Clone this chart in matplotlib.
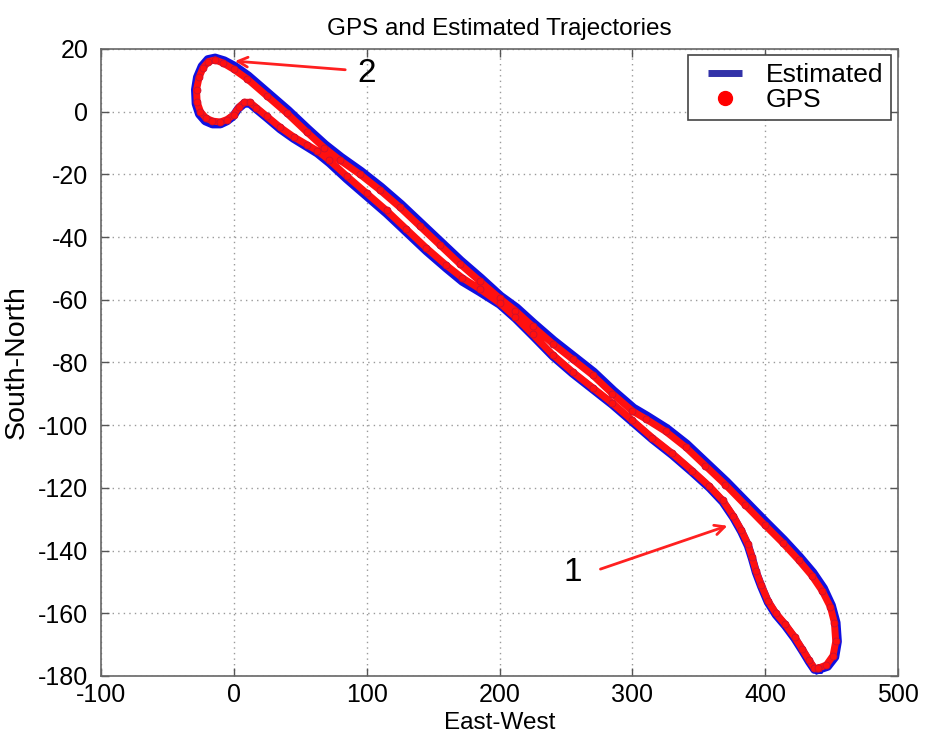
import matplotlib
matplotlib.use("Agg")
import matplotlib.pyplot as plt
from matplotlib.lines import Line2D

# ---- data ----
gps_x = [440, 446, 451, 453, 452, 449, 443, 435, 425, 413, 400, 385, 370, 355, 340, 325, 310, 300,
         285, 270, 255, 240, 225, 212, 200, 185, 170, 155, 140, 125, 110, 95, 80, 68, 55, 40, 25, 10,
         0, -8, -14, -19, -23, -26, -28, -27.5, -25, -21, -16, -10, -5, 0, 4, 8, 12, 17, 25, 35, 45,
         55, 63, 72, 85, 100, 115, 130, 145, 160, 172, 185, 200, 212, 225, 240, 255, 270, 285, 300,
         315, 330, 345, 358, 368, 376, 382, 387, 390, 393, 397, 402, 408, 415, 422, 428, 433, 437, 440]
gps_y = [-177.5, -176.5, -173.5, -169, -163, -158, -153, -148, -143, -137.5, -132, -125.5, -119, -113,
         -107, -102, -98, -95.5, -90, -84, -79, -74, -68.5, -63.5, -59.5, -54, -48.5, -42.5, -36.5,
         -30.5, -25, -20, -15.5, -11.5, -6.5, -0.5, 5, 10.5, 13.5, 15.5, 16.5, 16, 14, 11, 7, 3, 0,
         -2, -3, -3.3, -2.5, -1, 1.5, 3, 3, 1.3, -1.5, -5, -8, -10.5, -12.5, -15.5, -20.5, -26, -31.5,
         -37.5, -43.5, -49, -53, -56.5, -61, -65.5, -71, -77.5, -83, -88, -93, -98.5, -104, -109,
         -114.5, -119.5, -124, -129, -133.5, -138, -142, -146.5, -151, -156, -160, -163.5, -167.5,
         -171.5, -175, -177.5, -177.5]

est_x = [440, 447, 452.5, 454.5, 453.5, 450, 444, 436, 426, 414, 401, 386, 371, 356, 341, 326, 311, 301,
         286, 271, 256, 241, 226, 213, 201, 186, 171, 156, 141, 126, 111, 96, 81, 69, 56, 41, 26, 11,
         1, -7, -14, -19.5, -24, -27.5, -29, -28.5, -26, -21.5, -16, -10, -5, -0.5, 3.5, 8, 12, 17,
         25, 35, 45, 55, 63, 72, 85, 100, 115, 130, 145, 160, 172, 185, 200, 212, 225, 240, 255, 270,
         285, 300, 315, 330, 345, 358, 368, 376, 382, 387, 390, 393, 397, 402, 408, 415, 422, 428,
         433, 437, 440]
est_y = [-178, -177, -174, -169, -163, -157.5, -152, -147, -142, -136.5, -131, -124.5, -118, -112,
         -106, -101, -97, -94.5, -89, -83, -78, -73, -67.5, -62.5, -58.8, -53, -47.5, -41.5, -35.5,
         -29.5, -24, -19, -14.5, -10.5, -5.5, 0.5, 6, 11.5, 14.5, 16.3, 17.2, 16.7, 14.5, 11, 7, 2.5,
         -0.8, -3, -4, -4, -3, -1.5, 1, 2.6, 2.6, 0.8, -2, -5.6, -8.6, -11.2, -13.3, -16.4, -21.5, -27,
         -32.5, -38.5, -44.5, -50, -54.2, -57.5, -61.5, -66, -71.5, -78, -83.5, -88.5, -93.5,
         -99, -104.5, -109.5, -115, -120, -124.5, -129.5, -134, -138.5, -142.5, -147, -151.5,
         -156.5, -160.5, -164, -168, -172, -175.5, -178, -178]

x_ticks = [-100, 0, 100, 200, 300, 400, 500]
y_ticks = [20, 0, -20, -40, -60, -80, -100, -120, -140, -160, -180]

plt.rcParams['font.family'] = ['Liberation Sans', 'DejaVu Sans']
plt.rcParams['axes.unicode_minus'] = False

fig = plt.figure(figsize=(9.25, 7.42), dpi=100)
ax = fig.add_axes([0.109, 0.089, 0.862, 0.845])

ax.plot(est_x, est_y, color='#1010e0', lw=6.0, solid_joinstyle='round', zorder=2)
ax.plot(gps_x, gps_y, color='#ff1010', lw=5.0, solid_joinstyle='round', zorder=3)
ax.plot(gps_x, gps_y, ls='none', marker='o', ms=5, mfc='#ff1010', mec='#c81030', mew=0.6,
        zorder=4)

ax.set_xlim(-100, 500)
ax.set_ylim(-180, 20)
ax.set_xticks(x_ticks)
ax.set_yticks(y_ticks)
ax.tick_params(axis='both', which='both', direction='in', length=6, width=1, color='#555555',
               labelsize=18, top=True, right=True)
ax.tick_params(axis='y', pad=9)
ax.tick_params(axis='x', pad=5)
for s in ax.spines.values():
    s.set_color('#666666')
    s.set_linewidth(1.2)
ax.grid(True, ls=(0, (1, 3)), color='#9a9a9a', lw=1.0)
ax.set_axisbelow(True)

ax.set_title('GPS and Estimated Trajectories', fontsize=17.5, pad=10)
ax.set_xlabel('East-West', fontsize=17.5, labelpad=4)
ax.set_ylabel('South-North', fontsize=20.5, labelpad=6)

handles = [Line2D([], [], ls='none', marker='_', ms=25, mew=5, color='#3232a8'),
           Line2D([], [], ls='none', marker='o', ms=10, color='#ff0000')]
leg = ax.legend(handles, ['Estimated', 'GPS'], loc='upper right', bbox_to_anchor=(0.991, 0.990),
                fontsize=19, frameon=True, fancybox=False, edgecolor='#444444', framealpha=1,
                borderpad=0.3, handlelength=2.2, handletextpad=0.45, labelspacing=0.05,
                borderaxespad=0)
leg.get_frame().set_linewidth(1.2)

arrow_kw = dict(arrowstyle='->,head_length=0.7,head_width=0.35', color='#ff2020', lw=2)
ax.annotate('', xy=(-1.2, 16.2), xytext=(86, 13.3), arrowprops=arrow_kw)
ax.text(100, 12.3, '2', fontsize=24, ha='center', va='center')
ax.annotate('', xy=(373.5, -131.8), xytext=(274, -146.2), arrowprops=arrow_kw)
ax.text(255, -147, '1', fontsize=24, ha='center', va='center')

fig.savefig('out.png', dpi=100)
